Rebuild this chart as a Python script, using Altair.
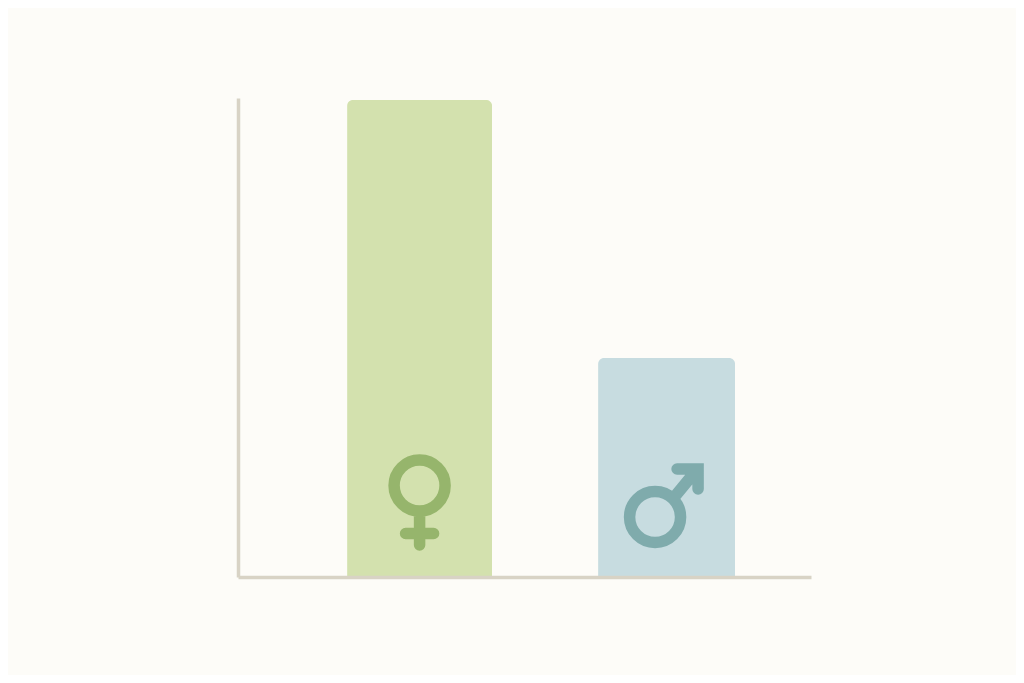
import altair as alt
import pandas as pd

categories = ["Female", "Male"]
values = [99.6, 45.7]
icon_levels = [19.1, 19.1]
bar_widths = [145, 137]
bar_colors = ["#D3E1AE", "#C7DCE0"]
icon_colors = ["#96B56C", "#7FABAC"]

# icon outlines in a unit box, drawn around each bar's icon anchor
venus = "M0.51,0 A0.51,0.51 0 1 1 -0.51,0 A0.51,0.51 0 1 1 0.51,0 M0,0.51 L0,1.19 M-0.28,0.96 L0.28,0.96"
mars = "M0.28,0.63 A0.51,0.51 0 1 1 -0.74,0.63 A0.51,0.51 0 1 1 0.28,0.63 M0.14,0.25 L0.56,-0.26 M0.21,-0.33 L0.63,-0.33 L0.63,0.07"
shapes = [venus, mars]

df = pd.DataFrame({"category": categories, "value": values, "icon": icon_levels})

x = alt.X("category:N", sort=categories, title=None,
          scale=alt.Scale(type="point", padding=0.66, align=0.557),
          axis=alt.Axis(labels=False, ticks=False, grid=False, domainColor="#D8D3C5",
                        domainWidth=3.5, zindex=1))
y = alt.Y("value:Q", title=None, scale=alt.Scale(domain=[0, 100], nice=False),
          axis=alt.Axis(labels=False, ticks=False, grid=False, domainColor="#D8D3C5",
                        domainWidth=3.5, zindex=1))

layers = []
for i, cat in enumerate(categories):
    sub = df[df["category"] == cat]
    bar = alt.Chart(sub).mark_bar(width=bar_widths[i], color=bar_colors[i],
                                  cornerRadiusTopLeft=6, cornerRadiusTopRight=6).encode(x=x, y=y)
    icon = alt.Chart(sub).mark_point(shape=shapes[i], filled=False, opacity=1, size=10000,
                                     stroke=icon_colors[i], strokeWidth=11.5,
                                     strokeCap="round", strokeJoin="miter").encode(
        x=x, y=alt.Y("icon:Q", title=None, scale=alt.Scale(domain=[0, 100], nice=False)))
    layers += [bar, icon]

chart = alt.layer(*layers).properties(
    width=573, height=479, background="#FDFCF8",
    autosize=alt.AutoSizeParams(type="none"),
    padding={"left": 230, "top": 90, "right": 205, "bottom": 98},
).configure_view(stroke=None)

chart.save("out.html", embed_options={"renderer": "svg", "actions": False})
